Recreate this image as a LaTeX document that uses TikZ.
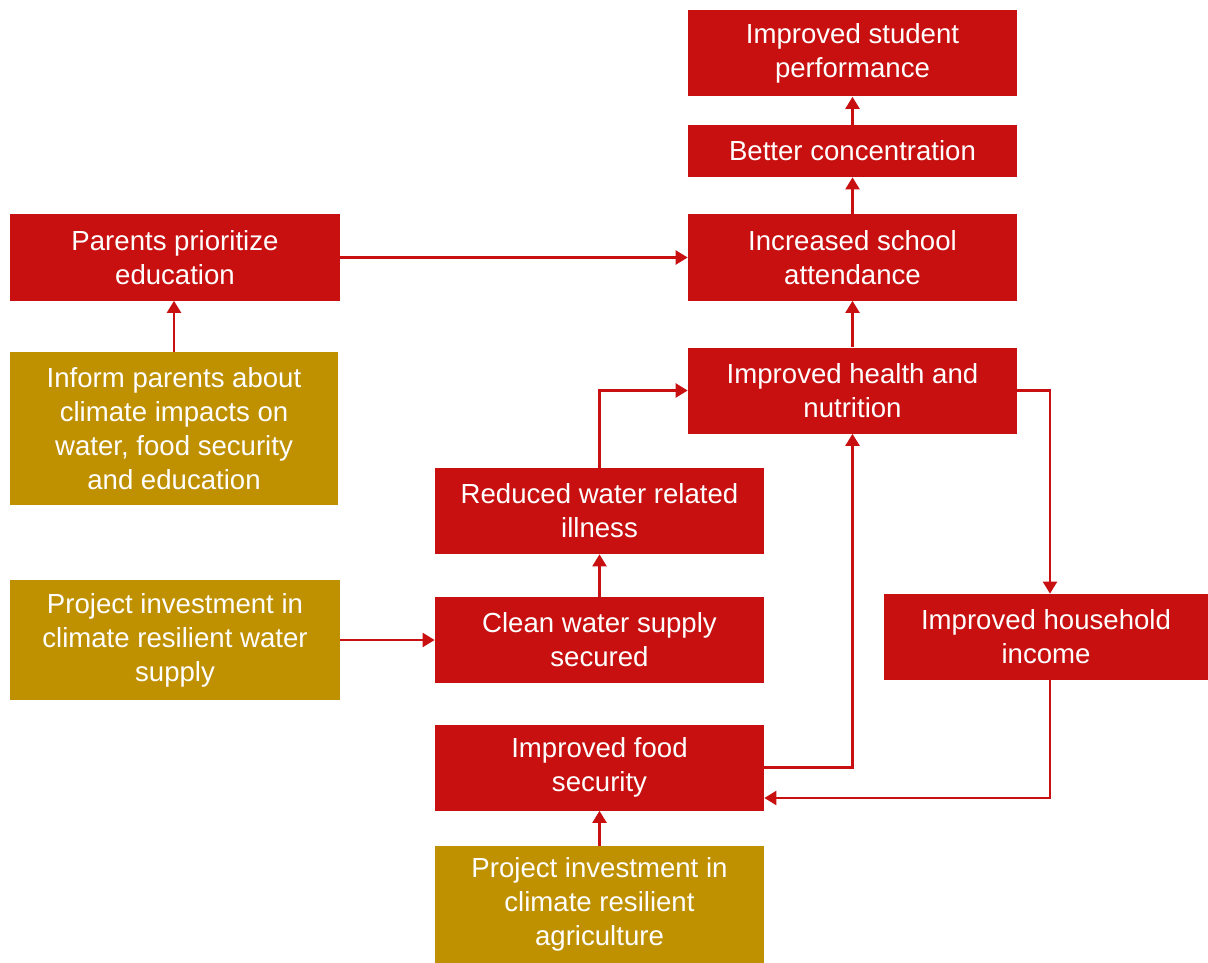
\documentclass[tikz,border=0pt]{standalone}
\usepackage{fontspec}
\setmainfont{Liberation Sans}
\usepackage{tikz}
\usetikzlibrary{arrows.meta}
\definecolor{outcomecolor}{HTML}{C81010}
\definecolor{inputcolor}{HTML}{BF9000}

\begin{document}
\begin{tikzpicture}[
    outcome/.style={fill=outcomecolor, text=white, align=center, inner sep=0pt,
        minimum width=6.58cm, minimum height=1.72cm,
        font=\fontsize{15.7}{19.4}\selectfont},
    input/.style={outcome, fill=inputcolor},
    link/.style={draw=outcomecolor, line width=1.3pt,
        -{Triangle[length=0.24cm, width=0.28cm]}}
]
    \useasboundingbox (0,0) rectangle (24.16,-19.26);

    % Outcomes, right column
    \node[outcome] (perf) at (17.05,-1.07) {Improved student\\performance};
    \node[outcome, minimum height=1.04cm] (conc) at (17.05,-3.02) {Better concentration};
    \node[outcome] (attend) at (17.05,-5.15) {Increased school\\attendance};
    \node[outcome] (health) at (17.05,-7.81) {Improved health and\\nutrition};
    \node[outcome, minimum width=6.48cm] (income) at (20.92,-12.74) {Improved household\\income};

    % Outcomes, middle column
    \node[outcome] (reduced) at (11.99,-10.22) {Reduced water related\\illness};
    \node[outcome] (clean) at (11.99,-12.80) {Clean water supply\\secured};
    \node[outcome] (food) at (11.99,-15.35) {Improved food\\security};

    % Parents
    \node[outcome, minimum width=6.6cm] (parents) at (3.50,-5.15) {Parents prioritize\\education};

    % Inputs
    \node[input, minimum width=6.56cm, minimum height=3.06cm] (inform) at (3.48,-8.57)
        {Inform parents about\\climate impacts on\\water, food security\\and education};
    \node[input, minimum width=6.6cm, minimum height=2.4cm] (projwater) at (3.50,-12.80)
        {Project investment in\\climate resilient water\\supply};
    \node[input, minimum height=2.34cm] (projagri) at (11.99,-18.09)
        {Project investment in\\climate resilient\\agriculture};

    % Arrows
    \draw[link] (conc) -- (perf);
    \draw[link] (attend) -- (conc);
    \draw[link] (health) -- (attend);
    \draw[link] (parents) -- (attend);
    \draw[link] (inform.north) -- (inform.north |- parents.south);
    \draw[link] (reduced) |- (health);
    \draw[link] (clean) -- (reduced);
    \draw[link] (projwater) -- (clean);
    \draw[link] (projagri) -- (food);
    \draw[link] (health.east) -| ([xshift=0.08cm]income.north);
    \draw[link] ([xshift=0.08cm]income.south) |- ([yshift=-0.61cm]food.east);
    \draw[link] (food.east) -| (health.south);

\end{tikzpicture}
\end{document}
